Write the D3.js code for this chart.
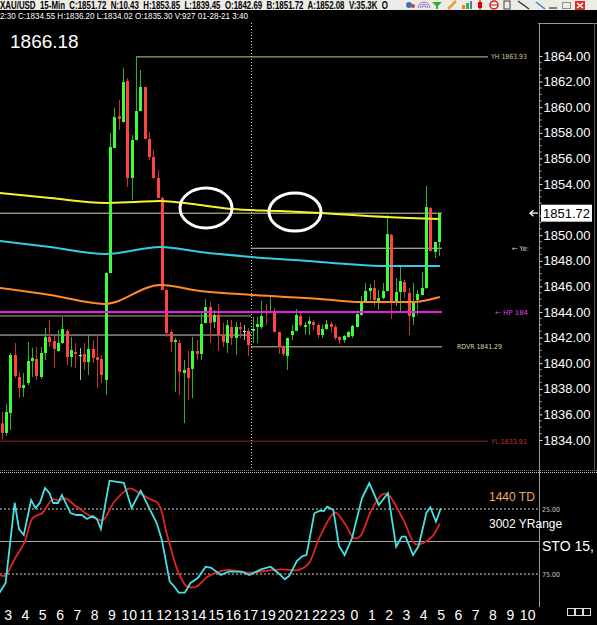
<!DOCTYPE html>
<html><head><meta charset="utf-8">
<script src="https://cdn.jsdelivr.net/npm/d3@7"></script>
<style>html,body{margin:0;padding:0;background:#000;overflow:hidden}svg{display:block}</style>
</head><body><svg id="c" width="597" height="625"></svg>
<script>
// ---------------- DATA ----------------
const hourLabels = ["3","4","5","6","7","8","9","10","11","12","13","14","15","16","17","19","20","21","22","23","0","1","2","3","4","5","6","7","8","9","10"];
const open  = [1835.30,1834.55,1836.11,1840.64,1838.92,1838.06,1838.45,1840.17,1840.33,1838.92,1840.80,1842.05,1841.73,1840.95,1841.58,1842.52,1840.48,1840.88,1840.64,1840.72,1840.09,1841.11,1840.48,1840.33,1838.69,1847.05,1856.81,1859.31,1858.84,1862.05,1854.47,1857.44,1859.70,1861.58,1857.52,1856.11,1854.47,1852.91,1845.72,1842.44,1841.66,1841.58,1839.23,1839.63,1839.55,1840.95,1840.72,1843.14,1844.39,1843.22,1843.77,1842.20,1841.58,1842.83,1841.97,1842.83,1842.52,1842.52,1842.52,1842.83,1842.83,1844.00,1843.92,1844.00,1842.44,1841.34,1840.56,1842.20,1842.52,1843.69,1842.83,1843.06,1843.22,1842.98,1842.20,1842.67,1843.06,1842.83,1842.05,1841.81,1842.05,1842.13,1842.83,1843.77,1844.86,1845.64,1845.88,1844.78,1845.09,1845.64,1850.02,1844.70,1845.56,1846.34,1845.48,1843.61,1844.94,1845.33,1845.88,1852.12,1848.69,1849.47];
const high  = [1836.20,1836.81,1840.80,1841.58,1839.31,1839.23,1841.66,1841.19,1841.27,1841.27,1842.75,1843.38,1842.20,1842.60,1843.61,1842.67,1842.05,1841.58,1841.19,1841.58,1842.28,1841.81,1842.28,1840.64,1847.10,1857.98,1859.94,1860.56,1863.06,1862.28,1857.83,1863.93,1862.91,1861.60,1858.06,1856.66,1855.09,1852.98,1845.80,1842.60,1841.97,1841.81,1840.25,1841.00,1842.05,1841.81,1843.92,1845.02,1844.78,1844.16,1844.63,1843.14,1843.38,1843.38,1843.22,1843.22,1842.98,1842.75,1843.61,1843.61,1844.86,1844.63,1845.25,1844.31,1842.45,1841.40,1842.00,1842.98,1844.23,1843.92,1843.22,1843.61,1843.40,1843.10,1842.98,1843.38,1843.22,1843.00,1842.10,1842.20,1842.50,1843.00,1844.16,1845.25,1846.27,1846.19,1846.50,1845.72,1846.27,1851.58,1850.10,1846.66,1847.67,1846.50,1845.88,1846.27,1845.72,1847.13,1853.85,1852.20,1849.50,1851.80];
const low   = [1834.02,1834.31,1834.78,1838.84,1837.28,1837.36,1838.30,1838.92,1838.69,1838.77,1840.25,1841.27,1839.63,1840.90,1841.50,1839.86,1839.70,1839.63,1838.69,1839.47,1839.08,1840.02,1838.06,1838.45,1837.52,1847.00,1856.80,1858.22,1858.80,1853.77,1852.75,1857.40,1859.70,1857.50,1855.88,1854.40,1852.90,1845.70,1842.05,1840.88,1837.75,1837.52,1835.31,1837.10,1837.28,1840.25,1840.25,1843.10,1841.58,1842.75,1840.95,1841.27,1840.80,1841.42,1840.64,1841.97,1841.81,1840.56,1841.58,1841.58,1842.67,1842.98,1843.90,1842.40,1840.72,1840.56,1839.47,1841.81,1842.50,1842.83,1842.20,1842.20,1842.60,1841.97,1841.97,1842.60,1842.36,1841.81,1841.50,1841.58,1842.00,1841.97,1842.80,1843.70,1844.80,1844.94,1844.47,1844.16,1845.00,1845.60,1843.45,1844.47,1843.92,1845.09,1842.20,1842.98,1843.75,1845.30,1845.80,1848.70,1848.22,1848.38];
const close = [1834.55,1836.19,1840.64,1839.00,1838.06,1838.30,1840.17,1840.41,1839.00,1840.80,1842.05,1841.66,1841.11,1841.58,1842.67,1840.48,1841.03,1840.72,1840.64,1840.09,1841.11,1840.41,1840.25,1839.08,1847.05,1856.89,1859.23,1859.08,1861.97,1854.47,1857.44,1859.70,1861.58,1857.52,1856.11,1854.47,1852.91,1845.72,1842.36,1841.66,1841.81,1839.31,1839.47,1838.84,1840.95,1840.72,1843.06,1844.39,1843.14,1843.77,1842.20,1841.66,1842.98,1841.97,1842.83,1842.67,1842.52,1841.42,1842.67,1843.06,1843.69,1843.92,1844.08,1842.44,1841.34,1840.72,1841.97,1842.52,1843.77,1842.98,1842.98,1843.30,1842.98,1842.20,1842.67,1843.06,1842.83,1841.97,1841.81,1842.13,1842.44,1842.91,1843.84,1844.86,1845.64,1845.88,1844.94,1845.09,1845.64,1850.09,1844.70,1845.56,1846.42,1845.56,1843.69,1844.86,1845.41,1845.88,1852.20,1848.77,1849.47,1851.72];

// moving averages: [bar index, price]
const maYellow = [[-0.5,1853.30],[11.2,1852.91],[24,1852.52],[30.8,1852.59],[36.6,1852.67],[45.8,1852.36],[53.2,1852.05],[64.3,1851.89],[73.5,1851.73],[89,1851.42],[101.2,1851.27]];
const maCyan   = [[-0.5,1849.55],[11.2,1849.08],[24,1848.53],[36.6,1849.08],[45.8,1848.69],[57.8,1848.30],[73.5,1847.91],[79.7,1847.75],[89,1847.59],[101.2,1847.59]];
const maOrange = [[-0.5,1845.88],[11.2,1845.33],[23.8,1844.63],[36.6,1846.11],[45.8,1845.64],[57.8,1845.33],[73.5,1845.02],[82.7,1844.78],[95,1844.78],[101.2,1845.17]];

// stochastic: [bar index, value]
const stoFast = [[-0.5,89.4],[0.9,81.9],[3.0,20.2],[4.0,40.4],[5.1,45.0],[6.8,18.1],[7.8,24.2],[8.8,20.4],[10.0,8.8],[11.0,12.7],[11.9,20.4],[13.0,20.4],[13.9,14.2],[15.9,28.1],[17.2,29.6],[18.5,29.6],[19.7,32.7],[21.0,30.4],[22.0,32.7],[22.9,40.4],[24.9,3.2],[28.2,4.8],[30.0,24.2],[32.1,10.9],[34.3,25.8],[35.8,35.8],[37.0,48.8],[38.8,80.9],[39.9,84.8],[40.9,89.4],[42.3,89.4],[43.6,81.9],[45.3,78.1],[47.1,69.4],[48.4,70.2],[50.6,75.8],[52.4,73.2],[55.4,73.2],[57.2,75.8],[59.9,71.4],[62.1,69.4],[63.8,74.0],[65.4,79.1],[66.4,76.5],[68.2,64.8],[69.5,61.2],[70.4,60.4],[72.2,28.3],[73.5,26.3],[74.4,26.5],[75.2,23.2],[76.6,25.8],[77.9,53.5],[79.2,60.4],[80.9,47.5],[83.2,16.8],[84.9,5.2],[87.1,21.9],[89.2,12.9],[91.1,54.0],[92.4,46.3],[93.3,46.3],[95.0,60.4],[96.3,53.5],[98.1,27.8],[99.0,23.7],[100.3,34.8],[101.4,24.5]];
const stoSlow = [[-0.5,75.2],[0.7,76.5],[3.1,62.9],[5.3,50.2],[7.1,32.2],[8.4,29.6],[9.3,28.3],[11.8,17.5],[13.2,18.6],[14.7,16.8],[16.8,21.9],[20.7,30.9],[23.3,33.5],[26.0,19.4],[29.5,9.1],[31.3,11.7],[33.9,16.8],[36.1,20.6],[38.3,46.3],[40.9,74.5],[42.7,84.2],[44.9,84.8],[47.5,77.1],[50.6,72.7],[52.4,71.9],[56.8,74.0],[61.2,72.5],[64.7,71.4],[68.6,71.9],[70.9,66.8],[73.5,46.3],[77.0,27.8],[79.2,36.0],[81.4,47.5],[82.7,46.3],[85.4,25.8],[88.0,13.5],[89.3,14.2],[92.8,33.5],[95.5,51.9],[97.2,51.4],[99.4,46.3],[101.2,36.0]];

const priceTicks = d3.range(1834, 1865, 2);
const stoLevels = [25, 75];
const lastPrice = 1851.72;
const headerLine1 = "XAU/USD  15-Min  C:1851.72  N:10.43  H:1853.85  L:1839.45  O:1842.69  B:1851.72  A:1852.08  V:35.3K  O";
const headerLine2 = "2:30  C:1834.55  H:1836.20  L:1834.02  O:1835.30  V:927  01-28-21  3:40";
const bigLabel = "1866.18";
// reference levels
const lvYH = 1863.93, lvYL = 1833.91, lvHP = 1844.00, lvRDVR = 1841.29, lvYe = 1848.98, lvA = 1843.69, lvB = 1842.20;

// ---------------- DRAW ----------------
const svg = d3.select("#c");
const F = "'Liberation Sans', Arial, sans-serif";
svg.append("rect").attr("width",597).attr("height",625).attr("fill","#000");

const x = d3.scaleLinear().domain([0,101]).range([1.7,439.0]);
const y = d3.scaleLinear().domain([1834,1864]).range([440,56]);
const ys = d3.scaleLinear().domain([0,100]).range([476.5,606.5]);

// header
svg.append("rect").attr("x",0).attr("y",0).attr("width",597).attr("height",10).attr("fill","#ecebe6");
svg.append("text").attr("x",0).attr("y",8.5).attr("font-family",F).attr("font-size",10).attr("font-weight","bold")
  .attr("fill","#000").attr("textLength",388).attr("lengthAdjust","spacingAndGlyphs").attr("xml:space","preserve").text(headerLine1);
svg.append("text").attr("x",0).attr("y",19).attr("font-family",F).attr("font-size",9)
  .attr("fill","#fff").attr("textLength",248).attr("lengthAdjust","spacingAndGlyphs").text(headerLine2);

// icons
const ic = svg.append("g");
ic.append("circle").attr("cx",409).attr("cy",5).attr("r",3).attr("fill","#3a70c0");
ic.append("circle").attr("cx",413).attr("cy",6).attr("r",2).attr("fill","#d04040");
[2,4,6].forEach(r=>ic.append("path").attr("d",`M${424-r},${8} A${r},${r} 0 0 1 ${424+r},8`).attr("fill","none").attr("stroke","#9a70c8").attr("stroke-width",1));
ic.append("path").attr("d","M432,2 L442,2 L438,6 L438,9 L436,9 L436,6 Z").attr("fill","#30b030");
ic.append("path").attr("d","M448,9 L456,1").attr("stroke","#e0a040").attr("stroke-width",2.5);
ic.append("rect").attr("x",462).attr("y",5).attr("width",3).attr("height",4).attr("fill","#e08030");
ic.append("rect").attr("x",466).attr("y",3).attr("width",3).attr("height",6).attr("fill","#40b040");
ic.append("rect").attr("x",470).attr("y",1).attr("width",2).attr("height",8).attr("fill","#4080d0");
ic.append("path").attr("d","M480,0 L480,10").attr("stroke","#c00000");
ic.append("rect").attr("x",478).attr("y",2).attr("width",4).attr("height",6).attr("fill","#e00000");
ic.append("circle").attr("cx",494).attr("cy",5).attr("r",4).attr("fill","none").attr("stroke","#d02020").attr("stroke-width",1.5);
ic.append("path").attr("d","M490,5 L498,5").attr("stroke","#d02020");
ic.append("rect").attr("x",504).attr("y",1).attr("width",6).attr("height",8).attr("fill","none").attr("stroke","#404040");
ic.append("path").attr("d","M518,1 L529,9").attr("stroke","#303030").attr("stroke-width",1.5);
ic.append("path").attr("d","M536,2 L545,9").attr("stroke","#3080d0").attr("stroke-width",1.5);
ic.append("path").attr("d","M549,8 L557,8").attr("stroke","#808080").attr("stroke-width",2);
ic.append("rect").attr("x",562.5).attr("y",2.5).attr("width",8).attr("height",6).attr("fill","none").attr("stroke","#909090");
ic.append("rect").attr("x",575).attr("y",1).attr("width",10).attr("height",9).attr("fill","#d83020");
ic.append("path").attr("d","M577,3 L583,8 M583,3 L577,8").attr("stroke","#fff").attr("stroke-width",1.5);

// big label
svg.append("text").attr("x",10).attr("y",48).attr("font-family",F).attr("font-size",19).attr("fill","#fff").text(bigLabel);

// axis frame
svg.append("path").attr("d","M538,23.5 L597,23.5").attr("stroke","#9a9a9a");
svg.append("path").attr("d","M539.5,23 L539.5,607").attr("stroke","#9a9a9a");
svg.append("path").attr("d","M594.5,23 L594.5,470").attr("stroke","#555");

const main = svg.append("g");

// reference lines
function hline(p, x1, x2, color, w, dash){
  const l = main.append("line").attr("x1",x1).attr("x2",x2).attr("y1",y(p)).attr("y2",y(p))
    .attr("stroke",color).attr("stroke-width",w||1);
  if(dash) l.attr("stroke-dasharray",dash);
}
hline(lvYH, 136, 488, "#cfc49a", 1);
hline(lastPrice, 0, 442, "#ddd6a8", 1);
hline(lvYe, 251, 442, "#d0d0d0", 1);
hline(lvA, 0, 251, "#b8a878", 1);
hline(lvB, 0, 251, "#d0d0d0", 1);
hline(lvRDVR, 251, 442, "#8a8670", 1.5);
hline(lvYL, 0, 488, "#9a2020", 1);

// day separator
main.append("line").attr("x1",251.5).attr("x2",251.5).attr("y1",23).attr("y2",470)
  .attr("stroke","#cfcfcf").attr("stroke-dasharray","1,2");

// candles
const GREEN="#3cff3c", RED="#ff4242", GW="#2fae2f", RW="#c83232";
const cg = main.append("g");
open.forEach((o,i)=>{
  const c = close[i];
  const up = c>o, flat = Math.abs(c-o)<0.005;
  const col = flat ? "#c8e0c8" : (up?GREEN:RED);
  const wc = flat ? "#a0c0a0" : (up?GW:RW);
  const cx = Math.round(x(i));
  cg.append("line").attr("x1",cx+0.5).attr("x2",cx+0.5).attr("y1",y(high[i])).attr("y2",y(low[i]))
    .attr("stroke",wc).attr("stroke-width",1);
  const top = y(Math.max(o,c)), bot = y(Math.min(o,c));
  cg.append("rect").attr("x",cx-1).attr("width",3).attr("y",top).attr("height",Math.max(1.2,bot-top)).attr("fill",col);
});

// magenta HP line
hline(lvHP, 0, 442, "#e81ee8", 2.2);

// moving averages
const maLine = d3.line().x(d=>x(d[0])).y(d=>y(d[1])).curve(d3.curveMonotoneX);
main.append("path").attr("d",maLine(maOrange)).attr("fill","none").attr("stroke","#ff8a26").attr("stroke-width",2);
main.append("path").attr("d",maLine(maCyan)).attr("fill","none").attr("stroke","#38cce4").attr("stroke-width",2);
main.append("path").attr("d",maLine(maYellow)).attr("fill","none").attr("stroke","#f4f42a").attr("stroke-width",2);

// ellipses
main.append("ellipse").attr("cx",206).attr("cy",208).attr("rx",26).attr("ry",20).attr("fill","none").attr("stroke","#fff").attr("stroke-width",3);
main.append("ellipse").attr("cx",295).attr("cy",212).attr("rx",26).attr("ry",19).attr("fill","none").attr("stroke","#fff").attr("stroke-width",3);

// small labels
function small(t, xx, p, color, len){
  svg.append("text").attr("x",xx).attr("y",y(p)+2.5).attr("font-family","'DejaVu Sans', sans-serif").attr("font-size",7)
    .attr("fill",color).attr("textLength",len).attr("lengthAdjust","spacingAndGlyphs").text(t);
}
small("YH 1863.93", 491, lvYH, "#cfc49a", 36);
small("\u2190 Ye:", 512, lvYe, "#dcdcdc", 17);
small("\u2190 HP 184", 495, lvHP, "#e040e0", 33);
small("RDVR 1841.29", 457, lvRDVR, "#d8d8a0", 45);
small("YL 1833.91", 491, lvYL, "#c03030", 36);

// right price axis (the label under the last-price box is hidden in the reference)
const ax = svg.append("g").attr("transform","translate(539.5,0)")
  .call(d3.axisRight(y).tickValues(priceTicks.filter(v=>Math.abs(v-lastPrice)>1)).tickFormat(d3.format(".2f")).tickSize(3).tickPadding(1));
ax.select(".domain").remove();
ax.selectAll(".tick line").attr("stroke","#ddd");
ax.selectAll(".tick text").attr("fill","#fff").attr("font-family",F).attr("font-size",13);
const minor = d3.range(1834,1864.01,0.5).filter(v=>Math.abs(v/2-Math.round(v/2))>0.01);
svg.append("g").selectAll("line").data(minor).join("line")
  .attr("x1",539.5).attr("x2",541.5).attr("y1",d=>y(d)).attr("y2",d=>y(d)).attr("stroke","#bbb");

// last price box
svg.append("rect").attr("x",541).attr("y",y(lastPrice)-8.5).attr("width",51).attr("height",17).attr("fill","#fff");
svg.append("text").attr("x",543).attr("y",y(lastPrice)+4.5).attr("font-family",F).attr("font-size",13).attr("fill","#000").text(d3.format(".2f")(lastPrice));
svg.append("path").attr("d",`M538,${y(lastPrice)} L530,${y(lastPrice)} M533.5,${y(lastPrice)-3} L530,${y(lastPrice)} L533.5,${y(lastPrice)+3}`)
  .attr("stroke","#fff").attr("stroke-width",1.2).attr("fill","none");

// ---------------- lower panel ----------------
svg.append("line").attr("x1",0).attr("x2",597).attr("y1",472.5).attr("y2",472.5).attr("stroke","#cfcfcf").attr("stroke-dasharray","1,1");
svg.append("line").attr("x1",0).attr("x2",597).attr("y1",470.5).attr("y2",470.5).attr("stroke","#777").attr("stroke-dasharray","1,1");
stoLevels.forEach(v=>{
  svg.append("line").attr("x1",0).attr("x2",539).attr("y1",ys(v)).attr("y2",ys(v)).attr("stroke","#d8d8d8").attr("stroke-dasharray","2,2");
  svg.append("text").attr("x",542).attr("y",ys(v)+2.5).attr("font-family","'DejaVu Sans', sans-serif").attr("font-size",7)
    .attr("fill","#ccc").attr("textLength",18).attr("lengthAdjust","spacingAndGlyphs").text(d3.format(".2f")(v));
});
svg.append("line").attr("x1",0).attr("x2",539).attr("y1",ys(50)).attr("y2",ys(50)).attr("stroke","#a8a8a8").attr("stroke-width",1);

svg.append("path").attr("d",d3.line().x(d=>x(d[0])).y(d=>ys(d[1])).curve(d3.curveCatmullRom)(stoSlow)).attr("fill","none").attr("stroke","#e02424").attr("stroke-width",1.8);
svg.append("path").attr("d",d3.line().x(d=>x(d[0])).y(d=>ys(d[1]))(stoFast)).attr("fill","none").attr("stroke","#48e0e0").attr("stroke-width",1.8);

svg.append("text").attr("x",489).attr("y",501).attr("font-family",F).attr("font-size",12).attr("fill","#f0a868").text("1440 TD");
svg.append("text").attr("x",489).attr("y",528).attr("font-family",F).attr("font-size",12).attr("fill","#fff").text("3002 YRange");
svg.append("text").attr("x",542).attr("y",551).attr("font-family",F).attr("font-size",14).attr("fill","#fff")
  .attr("textLength",52).attr("lengthAdjust","spacingAndGlyphs").text("STO  15,");

// bottom time axis
const tickIdx = hourLabels.map((_,k)=>4*k+1.36);
const bx = svg.append("g").attr("transform","translate(0,607)")
  .call(d3.axisBottom(x).tickValues(tickIdx).tickFormat((d,k)=>hourLabels[k]).tickSize(0).tickPadding(3));
bx.select(".domain").remove();
bx.selectAll(".tick text").attr("fill","#fff").attr("font-family",F).attr("font-size",14);

// small boxes
[567,575,583].forEach(bxp=>svg.append("rect").attr("x",bxp+0.5).attr("y",608.5).attr("width",7).attr("height",7).attr("fill","none").attr("stroke","#ddd"));
</script>
</body></html>
